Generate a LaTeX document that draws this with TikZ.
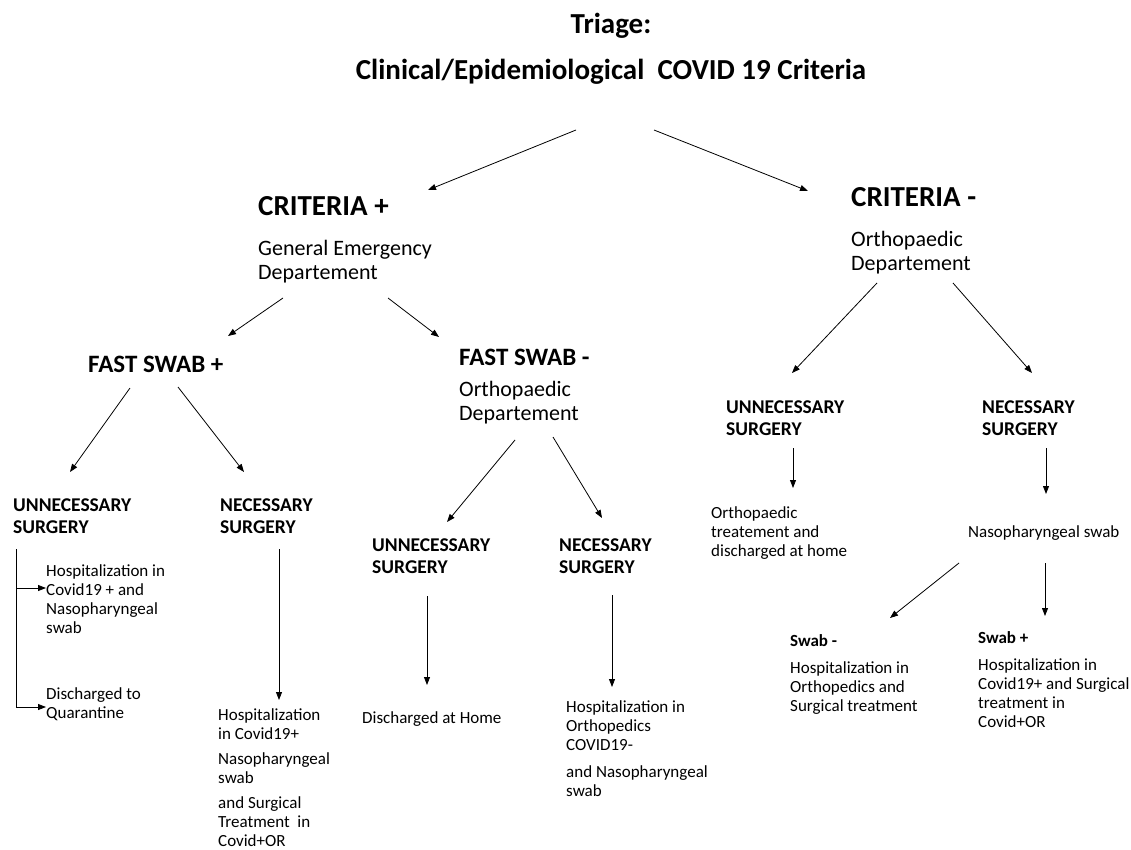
\documentclass[tikz,border=0pt]{standalone}
\usepackage{fontspec}
\setmainfont{Carlito}
\usetikzlibrary{arrows.meta,calc}

\begin{document}
\begin{tikzpicture}[x=1pt,y=-1pt,
  every node/.style={inner sep=0pt,anchor=base west,align=left},
  ttl/.style={font=\bfseries\fontsize{29}{46}\selectfont,anchor=base,align=center},
  crit/.style={font=\bfseries\fontsize{29}{32}\selectfont},
  dept/.style={font=\fontsize{22}{24}\selectfont},
  fast/.style={font=\bfseries\fontsize{25}{28}\selectfont},
  surg/.style={font=\bfseries\fontsize{19.5}{22}\selectfont},
  swab/.style={font=\bfseries\fontsize{17}{19}\selectfont},
  note/.style={font=\fontsize{17}{19}\selectfont},
  arr/.style={-{Triangle[length=8pt,width=6pt]},line width=0.8pt}]
\useasboundingbox (0,0) rectangle (1131,850);
% headings
\node[ttl] (ttl) at (611,80) {Triage:\\Clinical/Epidemiological\ \ COVID 19 Criteria};
\node[crit] (critp) at (258,215) {CRITERIA +};
\node[dept] (critpd) at (258,279) {General Emergency\\Departement};
\node[crit] (critm) at (851,207) {CRITERIA -};
\node[dept] (critmd) at (851,270) {Orthopaedic\\Departement};
\node[fast] (fsp) at (88,372) {FAST SWAB +};
\node[fast] (fsm) at (459,365) {FAST SWAB -};
\node[dept] (fsmd) at (459,420) {Orthopaedic\\Departement};
% surgery
\node[surg] (usl) at (13,533) {UNNECESSARY\\SURGERY};
\node[surg] (nsl) at (220,533) {NECESSARY\\SURGERY};
\node[surg] (usm) at (372,573) {UNNECESSARY\\SURGERY};
\node[surg] (nsm) at (559,573) {NECESSARY\\SURGERY};
\node[surg] (usr) at (726,435) {UNNECESSARY\\SURGERY};
\node[surg] (nsr) at (982,435) {NECESSARY\\SURGERY};
% outcomes
\node[note] (hospl1) at (46,633) {Hospitalization in\\Covid19 + and\\Nasopharyngeal\\swab};
\node[note] (quar) at (46,718) {Discharged to\\Quarantine};
\node[note] (hospl2) at (218,846) {Hospitalization\\in Covid19+\\[6pt]Nasopharyngeal\\swab\\[6pt]and Surgical\\Treatment\ \ in\\Covid+OR};
\node[note] (home) at (362,723) {Discharged at Home};
\node[note] (hospm) at (566,796) {Hospitalization in\\Orthopedics\\COVID19-\\[8pt]and Nasopharyngeal\\swab};
\node[note] (ortr) at (711,556) {Orthopaedic\\treatement and\\discharged at home};
\node[note] (naso) at (968,537) {Nasopharyngeal swab};
\node[swab] (swabm) at (790,646) {Swab -};
\node[note] (hospsm) at (790,711) {Hospitalization in\\Orthopedics and\\Surgical treatment};
\node[swab] (swabp) at (978,643) {Swab +};
\node[note] (hospsp) at (978,727) {Hospitalization in\\Covid19+ and Surgical\\treatment in\\Covid+OR};
% arrows
\draw[arr] ($(ttl.base)+(-35,50)$) -- ($(critp.base west)+(170,-25)$);
\draw[arr] ($(ttl.base)+(43,50)$) -- ($(critm.base west)+(-43,-16)$);
\draw[arr] ($(critpd.base west)+(25,19)$) -- ($(fsp.base west)+(140,-36)$);
\draw[arr] ($(critpd.base west)+(130,19)$) -- ($(fsm.base west)+(-20,-28)$);
\draw[arr] ($(fsp.base west)+(42,16)$) -- ($(usl.base west)+(57,-61)$);
\draw[arr] ($(fsp.base west)+(90,15)$) -- ($(nsl.base west)+(24,-61)$);
\draw[arr] ($(fsmd.base west)+(56,20)$) -- ($(usm.base west)+(75,-51)$);
\draw[arr] ($(fsmd.base west)+(94,17)$) -- ($(nsm.base west)+(43,-55)$);
\draw[arr] ($(critmd.base west)+(26,13)$) -- ($(usr.base west)+(66,-62)$);
\draw[arr] ($(critmd.base west)+(102,13)$) -- ($(nsr.base west)+(50,-62)$);
\draw[arr] ($(usr.base west)+(67,13)$) -- ($(ortr.base west)+(82,-68)$);
\draw[arr] ($(nsr.base west)+(64,13)$) -- ($(naso.base west)+(78,-43)$);
\draw[arr] ($(naso.base west)+(-9,26)$) -- ($(swabm.base west)+(100,-28)$);
\draw[arr] ($(naso.base west)+(77,26)$) -- ($(swabp.base west)+(67,-27)$);
\coordinate (uslx) at ($(usl.base west)+(3,16)$);
\coordinate (hospx) at ($(hospl1.base west)+(0,-45)$);
\coordinate (quarx) at ($(quar.base west)+(0,-11)$);
\draw[arr] (uslx) |- (quarx);
\draw[arr] (uslx |- hospx) -- (hospx);
\draw[arr] ($(nsl.base west)+(59,16)$) -- ($(hospl2.base west)+(61,-146)$);
\draw[arr] ($(usm.base west)+(55,23)$) -- ($(home.base west)+(65,-38)$);
\draw[arr] ($(nsm.base west)+(53,22)$) -- ($(hospm.base west)+(46,-109)$);
\end{tikzpicture}
\end{document}
